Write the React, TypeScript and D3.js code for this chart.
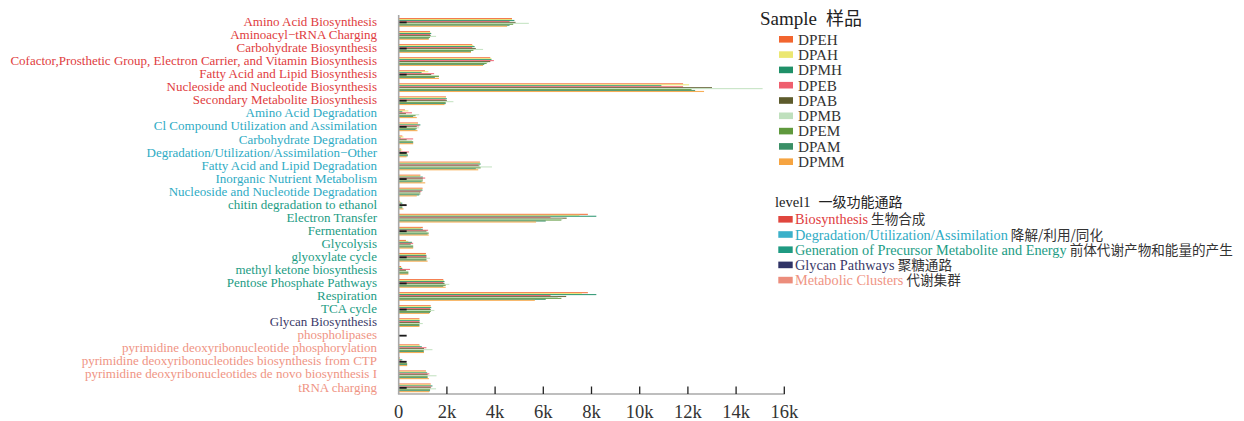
import React from "react";
import * as d3 from "d3";

const categories = [
  "Amino Acid Biosynthesis",
  "Aminoacyl−tRNA Charging",
  "Carbohydrate Biosynthesis",
  "Cofactor,Prosthetic Group, Electron Carrier, and Vitamin Biosynthesis",
  "Fatty Acid and Lipid Biosynthesis",
  "Nucleoside and Nucleotide Biosynthesis",
  "Secondary Metabolite Biosynthesis",
  "Amino Acid Degradation",
  "Cl Compound Utilization and Assimilation",
  "Carbohydrate Degradation",
  "Degradation/Utilization/Assimilation−Other",
  "Fatty Acid and Lipid Degradation",
  "Inorganic Nutrient Metabolism",
  "Nucleoside and Nucleotide Degradation",
  "chitin degradation to ethanol",
  "Electron Transfer",
  "Fermentation",
  "Glycolysis",
  "glyoxylate cycle",
  "methyl ketone biosynthesis",
  "Pentose Phosphate Pathways",
  "Respiration",
  "TCA cycle",
  "Glycan Biosynthesis",
  "phospholipases",
  "pyrimidine deoxyribonucleotide phosphorylation",
  "pyrimidine deoxyribonucleotides biosynthesis from CTP",
  "pyrimidine deoxyribonucleotides de novo biosynthesis I",
  "tRNA charging",
];

// level1 group index for each category
const categoryLevel = [0,0,0,0,0,0,0,1,1,1,1,1,1,1,2,2,2,2,2,2,2,2,2,3,4,4,4,4,4];

const levelNames = [
  "Biosynthesis",
  "Degradation/Utilization/Assimilation",
  "Generation of Precursor Metabolite and Energy",
  "Glycan Pathways",
  "Metabolic Clusters",
];
const levelNamesZh = ["生物合成", "降解/利用/同化", "前体代谢产物和能量的产生", "聚糖通路", "代谢集群"];
const levelColors = ["#e0463e", "#3bb0c9", "#1f9a82", "#2f3366", "#ec8d7c"];
const levelTextColors = ["#e03c40", "#2eabc4", "#1c9c84", "#3a3968", "#ef9484"];

const samples = ["DPEH", "DPAH", "DPMH", "DPEB", "DPAB", "DPMB", "DPEM", "DPAM", "DPMM"];
const sampleColors = ["#f2652f", "#ebe772", "#1f9068", "#ef5f6e", "#5d5b2c", "#bfe0bd", "#5f993d", "#3a8f66", "#f6a441"];

const DPEH = [4700,1300,3050,3800,1090,11800,1960,260,800,150,100,3370,900,990,50,7850,1000,300,1130,100,1850,7850,1330,860,0,860,50,1130,1330];
const DPAH = [4700,1320,3100,3850,1230,12050,1950,400,780,200,150,3380,880,970,100,7500,920,400,1120,120,1870,7600,1320,860,0,880,60,1140,1320];
const DPMH = [4800,1350,3150,3850,950,10900,2000,150,900,80,80,3400,1000,990,150,8200,1000,550,1150,150,1900,8200,1350,870,0,960,150,1180,1400];
const DPEB = [4600,1300,3050,3950,1470,11800,1950,550,850,600,430,3300,1100,950,100,6300,1220,600,1150,470,1850,6300,1300,860,0,1150,100,1270,1350];
const DPAB = [4850,1330,3200,3800,1350,13000,2000,300,750,330,350,3350,1000,900,300,6970,1150,500,1150,300,1900,6950,1330,870,0,1050,300,1200,1330];
const DPMB = [5400,1550,3500,3700,1670,15100,2270,850,850,550,350,3870,1000,850,150,6800,1200,600,1300,400,2100,6600,1480,1000,0,1400,250,1570,1550];
const DPEM = [4750,1300,3100,3650,1670,12150,1950,700,750,600,380,3400,1000,900,150,6750,1250,600,1150,400,1950,6750,1330,860,0,1040,350,1200,1300];
const DPAM = [4600,1250,3000,3550,1500,12300,1950,600,700,600,380,3200,950,850,150,6100,1200,600,1150,400,1850,6100,1300,860,0,1040,350,1200,1300];
const DPMM = [4500,1250,3000,3500,1670,12670,1900,750,780,600,330,3300,1100,750,200,5700,1250,600,1200,400,1950,5650,1270,860,0,1050,350,1250,1270];

const seriesValues = [DPEH, DPAH, DPMH, DPEB, DPAB, DPMB, DPEM, DPAM, DPMM];

const xTicks = [0, 2000, 4000, 6000, 8000, 10000, 12000, 14000, 16000];
const xTickLabels = ["0", "2k", "4k", "6k", "8k", "10k", "12k", "14k", "16k"];

const W = 1244;
const H = 421;
const FONT = "'Liberation Serif', 'Times New Roman', 'Noto Sans CJK SC', serif";
const CJK = "'Noto Sans CJK SC', sans-serif";

export default function App() {
  const x = d3.scaleLinear().domain([0, 16000]).range([398.7, 784.3]);
  const y = d3.scaleBand<string>().domain(categories).range([15.5, 394]).paddingInner(0).paddingOuter(0);
  const inner = d3.scaleBand<string>().domain(samples).range([0, 8.6]).padding(0);
  const groupOffset = (y.bandwidth() - 8.6) / 2 + 0.3;

  return (
    <svg width={W} height={H} style={{ position: "absolute", left: 0, top: 0, background: "#fff" }} fontFamily={FONT}>
      {/* bars */}
      {categories.map((c, ci) => (
        <g key={c} transform={`translate(0,${(y(c) as number) + groupOffset})`}>
          {samples.map((s, si) => {
            const v = seriesValues[si][ci];
            return (
              <rect
                key={s}
                x={x(0)}
                y={inner(s) as number}
                width={Math.max(0, x(v) - x(0))}
                height={inner.bandwidth() + 0.15}
                fill={sampleColors[si]}
                fillOpacity={0.88}
              />
            );
          })}
        </g>
      ))}
      {/* black inner ticks on alternate rows */}
      {categories.map((c, ci) =>
        ci % 2 === 0 ? (
          <rect
            key={"t" + c}
            x={x(0)}
            y={(y(c) as number) + y.bandwidth() / 2 - 0.5}
            width={x(330) - x(0)}
            height={1.8}
            fill="#1a1a1a"
          />
        ) : null
      )}
      {/* y axis line */}
      <line x1={x(0)} x2={x(0)} y1={15} y2={394} stroke="#a8a8a8" strokeWidth={1.6} />
      {/* x axis */}
      <line x1={x(0) - 0.8} x2={x(16000) + 0.5} y1={394} y2={394} stroke="#a8a8a8" strokeWidth={1.6} />
      {xTicks.map((t, i) => (
        <g key={t}>
          {i > 0 && <line x1={x(t)} x2={x(t)} y1={386.5} y2={394} stroke="#222" strokeWidth={1.3} />}
          <text x={x(t)} y={418} textAnchor="middle" fontSize={18.5} fill="#333">
            {xTickLabels[i]}
          </text>
        </g>
      ))}
      {/* y labels */}
      {categories.map((c, ci) => (
        <text
          key={"l" + c}
          x={377}
          y={(y(c) as number) + y.bandwidth() / 2 - 0.5}
          dy="0.35em"
          textAnchor="end"
          fontSize={13}
          fill={levelTextColors[categoryLevel[ci]]}
        >
          {c}
        </text>
      ))}
      {/* sample legend */}
      <text x={760} y={25} fontSize={19} fill="#222">
        Sample
        <tspan fontFamily={CJK} fontSize={18} dx={9}>样品</tspan>
      </text>
      {samples.map((s, i) => (
        <g key={"lg" + s} transform={`translate(779,${39.3 + i * 15.3})`}>
          <rect x={0} y={-3.3} width={14} height={6.6} fill={sampleColors[i]} />
          <text x={19} y={0} dy="0.35em" fontSize={15.2} fill="#333">
            {s}
          </text>
        </g>
      ))}
      {/* level legend */}
      <text x={775} y={202.3} dy="0.35em" fontSize={14.5} fill="#222">
        level1
        <tspan fontFamily={CJK} fontSize={14} dx={8}>一级功能通路</tspan>
      </text>
      {levelNames.map((n, i) => (
        <g key={"lv" + n} transform={`translate(778.3,${219.3 + i * 15.2})`}>
          <rect x={0} y={-3.3} width={14.4} height={6.6} fill={levelColors[i]} />
          <text x={16.7} y={0} dy="0.35em" fontSize={14.3} fill={levelTextColors[i]}>
            {n}
            <tspan fill="#333" fontFamily={CJK} fontSize={13.6} dx={3}>
              {levelNamesZh[i]}
            </tspan>
          </text>
        </g>
      ))}
    </svg>
  );
}
